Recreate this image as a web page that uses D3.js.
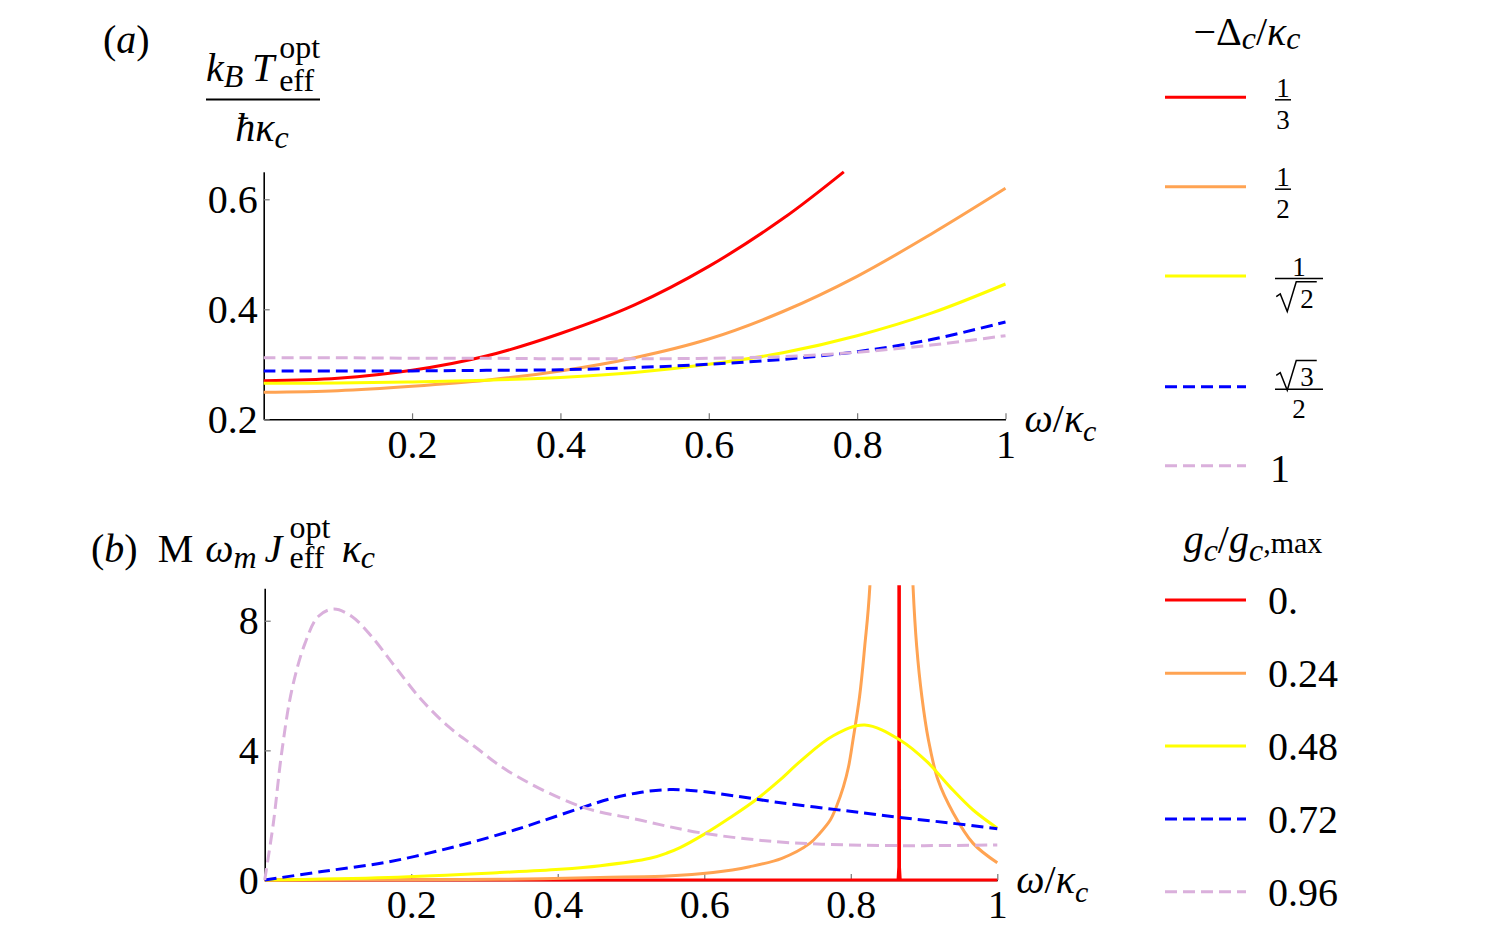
<!DOCTYPE html>
<html>
<head>
<meta charset="utf-8">
<script src="https://cdn.jsdelivr.net/npm/d3@7"></script>
<style>
  body { margin: 0; background: #fff; }
  svg { display: block; }
  text { font-family: "Liberation Serif", "Times New Roman", serif; fill: #000; }
</style>
</head>
<body>
<svg id="chart" width="1503" height="938" font-family="Liberation Serif"></svg>
<script>
/********************************************************************
Datos
*********************************************************************/

// Panel (a): k_B T / (hbar kappa_c) vs omega/kappa_c, one list per -Delta_c/kappa_c
const tempDelta13 = [[0, 0.270], [0.1, 0.2745], [0.2, 0.289], [0.3, 0.315], [0.4, 0.356],
  [0.5, 0.408], [0.6, 0.478], [0.7, 0.565], [0.782, 0.65]];
const tempDelta12 = [[0, 0.249], [0.1, 0.252], [0.2, 0.260], [0.3, 0.271], [0.4, 0.288],
  [0.5, 0.312], [0.6, 0.346], [0.7, 0.396], [0.8, 0.460], [0.9, 0.537], [1, 0.620]];
const tempDeltaR2 = [[0, 0.2655], [0.1, 0.266], [0.2, 0.268], [0.3, 0.271], [0.4, 0.276],
  [0.5, 0.285], [0.6, 0.300], [0.7, 0.321], [0.8, 0.352], [0.9, 0.393], [1, 0.446]];
const tempDeltaR3 = [[0, 0.288], [0.1, 0.288], [0.2, 0.288], [0.3, 0.289], [0.4, 0.290],
  [0.5, 0.294], [0.6, 0.300], [0.7, 0.309], [0.8, 0.323], [0.9, 0.345], [1, 0.377]];
const tempDelta1 = [[0, 0.312], [0.1, 0.312], [0.2, 0.311], [0.3, 0.311], [0.4, 0.310],
  [0.5, 0.310], [0.6, 0.311], [0.7, 0.314], [0.8, 0.322], [0.9, 0.335], [1, 0.352]];

// Panel (b): M omega_m J kappa_c vs omega/kappa_c, one list per g_c/g_c,max
const fluxG000 = [[0, 0], [0.8645, 0], [0.8655, 0.4], [0.866, 40], [0.8665, 0.4], [0.8675, 0], [1, 0]];
const fluxG024 = [[0, 0], [0.2, 0.01], [0.321, 0.02], [0.458, 0.08], [0.549, 0.12], [0.612, 0.23],
  [0.662, 0.41], [0.706, 0.67], [0.744, 1.13], [0.758, 1.45], [0.772, 1.85], [0.781, 2.3],
  [0.790, 2.88], [0.797, 3.5], [0.803, 4.32], [0.812, 5.66], [0.819, 7.2], [0.826, 9.05],
  [0.84, 20], [0.855, 40], [0.87, 20], [0.885, 9.05], [0.890, 7.2], [0.897, 5.66], [0.906, 4.32],
  [0.919, 3.09], [0.940, 2.06], [0.967, 1.13], [1, 0.53]];
const fluxG048 = [[0, 0], [0.169, 0.08], [0.321, 0.23], [0.403, 0.33], [0.458, 0.44], [0.526, 0.67],
  [0.55, 0.84], [0.567, 1.0], [0.599, 1.40], [0.635, 1.92], [0.672, 2.50], [0.703, 3.08],
  [0.731, 3.66], [0.776, 4.45], [0.819, 4.78], [0.867, 4.32], [0.904, 3.65], [0.935, 2.88],
  [0.967, 2.16], [1, 1.6]];
const fluxG072 = [[0, 0], [0.078, 0.26], [0.169, 0.56], [0.26, 1.03], [0.342, 1.55], [0.376, 1.80],
  [0.430, 2.21], [0.471, 2.50], [0.512, 2.70], [0.553, 2.79], [0.594, 2.74], [0.640, 2.60],
  [0.699, 2.40], [0.799, 2.12], [0.867, 1.93], [0.935, 1.76], [1, 1.58]];
const fluxG096 = [[0, 0], [0.0118, 1.75], [0.023, 3.9], [0.037, 5.86], [0.055, 7.3], [0.073, 8.13],
  [0.094, 8.36], [0.119, 8.13], [0.146, 7.51], [0.178, 6.58], [0.214, 5.56], [0.251, 4.73],
  [0.287, 4.11], [0.333, 3.35], [0.430, 2.28], [0.512, 1.85], [0.594, 1.46], [0.699, 1.18],
  [0.799, 1.08], [0.9, 1.06], [1, 1.08]];

// Ticks
const xTicks = [0.2, 0.4, 0.6, 0.8, 1];
const xTickLabels = ["0.2", "0.4", "0.6", "0.8", "1"];
const yTicksA = [0.2, 0.4, 0.6];
const yTickLabelsA = ["0.2", "0.4", "0.6"];
const yTicksB = [0, 4, 8];
const yTickLabelsB = ["0", "4", "8"];

// Leyendas
const deltaFractions = [["1", "3"], ["1", "2"], ["1", "√2"], ["√3", "2"]];
const deltaLastLabel = "1";
const couplingLabels = ["0.", "0.24", "0.48", "0.72", "0.96"];

/********************************************************************
Estilos
*********************************************************************/
const seriesColors = ["#ff0000", "#ffa352", "#ffff00", "#0000ff", "#dab0dc"];
const seriesDash = [null, null, null, "12,6", "12,6"];
const FONT = 40;

const svg = d3.select("#chart");

/********************************************************************
Funciones
*********************************************************************/

// Escribe texto "matemático" con sub/superíndices usando tspans
function mathText(parent, x, y, parts, size, anchor) {
  const t = parent.append("text")
    .attr("x", x).attr("y", y)
    .attr("font-size", size)
    .attr("text-anchor", anchor || "start");
  let shift = 0, pending = 0, lastW = 0;
  parts.forEach(p => {
    const s = p.s || 1;
    const off = (p.sh || 0) * size;
    const ts = t.append("tspan").text(p.t)
      .attr("font-size", size * s)
      .attr("font-style", p.i ? "italic" : "normal")
      .attr("dy", off - shift);
    let dx = pending + (p.dx || 0) * size;
    if (p.stack) dx -= lastW;
    if (dx) ts.attr("dx", dx);
    shift = off;
    const w = ts.node().getComputedTextLength();
    pending = p.stack ? Math.max(0, lastW - w) : 0;
    lastW = w;
  });
  return t;
}

// Panel con ejes, líneas y recorte
function drawPanel(cfg) {
  const x = d3.scaleLinear().domain([0, 1]).range([cfg.left, cfg.right]);
  const y = d3.scaleLinear().domain(cfg.yDomain).range([cfg.bottom, cfg.top]);

  const clipId = "clip-" + cfg.id;
  svg.append("clipPath").attr("id", clipId)
    .append("rect")
    .attr("x", cfg.left - 2).attr("y", cfg.top - 3)
    .attr("width", cfg.right - cfg.left + 4).attr("height", cfg.bottom - cfg.top + 6);

  const gx = svg.append("g")
    .attr("transform", `translate(0,${cfg.bottom})`)
    .call(d3.axisBottom(x).tickValues(xTicks)
      .tickFormat((d, i) => xTickLabels[i])
      .tickSizeInner(-6).tickSizeOuter(0));
  gx.selectAll("text").attr("y", cfg.xLabelY - cfg.bottom).attr("dy", 0)
    .attr("font-size", FONT);

  const gy = svg.append("g")
    .attr("transform", `translate(${cfg.left},0)`)
    .call(d3.axisLeft(y).tickValues(cfg.yTicks)
      .tickFormat((d, i) => cfg.yTickLabels[i])
      .tickSizeInner(-6).tickSizeOuter(0));
  gy.selectAll("text").attr("x", -6).attr("dy", "0.33em")
    .attr("font-size", FONT);

  [gx, gy].forEach(g => {
    g.attr("font-family", "Liberation Serif");
    g.select(".domain").attr("stroke", "#000").attr("stroke-width", 1.6);
    g.selectAll(".tick line").attr("stroke", "#777").attr("stroke-width", 1.2);
  });

  const smooth = d3.line().x(d => x(d[0])).y(d => y(d[1])).curve(d3.curveCatmullRom.alpha(0.5));
  const straight = d3.line().x(d => x(d[0])).y(d => y(d[1]));

  svg.append("g").attr("clip-path", `url(#${clipId})`)
    .selectAll("path")
    .data(cfg.series)
    .enter()
    .append("path")
    .attr("d", d => (d.linear ? straight : smooth)(d.values))
    .attr("fill", "none")
    .attr("stroke", (d, i) => seriesColors[i])
    .attr("stroke-width", 3)
    .attr("stroke-dasharray", (d, i) => seriesDash[i]);

  // omega/kappa_c
  mathText(svg, cfg.right + 19, cfg.xTitleY,
    [{ t: "ω", i: 1 }, { t: "/" }, { t: "κ", i: 1 }, { t: "c", i: 1, s: 0.75, sh: 0.22 }], FONT);
}

// Muestras de la leyenda
function legendSample(yy, i) {
  svg.append("line")
    .attr("x1", 1165).attr("x2", 1246)
    .attr("y1", yy).attr("y2", yy)
    .attr("stroke", seriesColors[i])
    .attr("stroke-width", 3)
    .attr("stroke-dasharray", seriesDash[i]);
}

// Número con raíz dibujada a mano (signo + vínculo)
function rootedNumber(cx, base, digit, size) {
  const t = svg.append("text").attr("x", cx + 8).attr("y", base)
    .attr("text-anchor", "middle").attr("font-size", size).text(digit);
  const w = t.node().getComputedTextLength();
  const x0 = cx + 8 - w / 2 - 3;       // left of the digit
  const top = base - size * 0.95;
  const path = d3.path();
  path.moveTo(x0 - 21, base - size * 0.4);
  path.lineTo(x0 - 17, base - size * 0.5);
  path.lineTo(x0 - 10, base + 4);
  path.lineTo(x0 - 1, top);
  path.lineTo(x0 + w + 6, top);
  svg.append("path").attr("d", path.toString())
    .attr("fill", "none").attr("stroke", "#000").attr("stroke-width", 1.5)
    .attr("stroke-linejoin", "miter");
}

// Fracción apilada
function fraction(cx, barY, width, num, den, size) {
  svg.append("line").attr("x1", cx - width / 2).attr("x2", cx + width / 2)
    .attr("y1", barY).attr("y2", barY).attr("stroke", "#000").attr("stroke-width", 1.5);
  [[num, barY - 3], [den, barY + 29]].forEach(([s, base]) => {
    if (s.startsWith("√")) {
      rootedNumber(cx, base, s.slice(1), size);
    } else {
      svg.append("text").attr("x", cx).attr("y", base)
        .attr("text-anchor", "middle").attr("font-size", size).text(s);
    }
  });
}

/********************************************************************
Main
*********************************************************************/

drawPanel({
  id: "a", left: 263.7, right: 1005.5, top: 171.8, bottom: 419.3,
  yDomain: [0.2, 0.65], yTicks: yTicksA, yTickLabels: yTickLabelsA,
  xLabelY: 458, xTitleY: 432,
  series: [
    { values: tempDelta13 }, { values: tempDelta12 }, { values: tempDeltaR2 },
    { values: tempDeltaR3 }, { values: tempDelta1 }
  ]
});

drawPanel({
  id: "b", left: 264.7, right: 997.3, top: 588.3, bottom: 880,
  yDomain: [0, 9], yTicks: yTicksB, yTickLabels: yTickLabelsB,
  xLabelY: 918, xTitleY: 893,
  series: [
    { values: fluxG000, linear: true }, { values: fluxG024 }, { values: fluxG048 },
    { values: fluxG072 }, { values: fluxG096 }
  ]
});

// (a) y su etiqueta vertical
mathText(svg, 103, 53, [{ t: "(" }, { t: "a", i: 1 }, { t: ")" }], FONT);
mathText(svg, 206, 81, [
  { t: "k", i: 1 }, { t: "B", i: 1, s: 0.8, sh: 0.15 },
  { t: "T", i: 1, dx: 0.22 },
  { t: "opt", s: 0.8, sh: -0.57, dx: 0.12 }, { t: "eff", s: 0.8, sh: 0.25, stack: 1 }
], FONT);
svg.append("line").attr("x1", 206).attr("x2", 320).attr("y1", 99.5).attr("y2", 99.5)
  .attr("stroke", "#000").attr("stroke-width", 1.8);
mathText(svg, 262, 141, [{ t: "ħ", i: 1 }, { t: "κ", i: 1 }, { t: "c", i: 1, s: 0.8, sh: 0.18 }],
  FONT, "middle");

// (b) etiqueta
mathText(svg, 91, 562, [
  { t: "(" }, { t: "b", i: 1 }, { t: ")" },
  { t: "M", dx: 0.5 }, { t: "ω", i: 1, dx: 0.3 }, { t: "m", i: 1, s: 0.8, sh: 0.15 },
  { t: "J", i: 1, dx: 0.2 }, { t: "opt", s: 0.8, sh: -0.6, dx: 0.18 },
  { t: "eff", s: 0.8, sh: 0.15, stack: 1 },
  { t: "κ", i: 1, dx: 0.28 }, { t: "c", i: 1, s: 0.8, sh: 0.15 }
], FONT);

// Leyenda (a)
mathText(svg, 1247, 45, [
  { t: "−" }, { t: "Δ" }, { t: "c", i: 1, s: 0.8, sh: 0.1 }, { t: "/" },
  { t: "κ", i: 1 }, { t: "c", i: 1, s: 0.8, sh: 0.1 }
], FONT, "middle");
const legendYA = [97.3, 186.7, 276, 386.7, 465.7];
const fracCenters = [1283, 1283, 1299, 1299];
const fracBars = [16, 16, 48, 48];
legendYA.forEach((yy, i) => legendSample(yy, i));
deltaFractions.forEach((f, i) => fraction(fracCenters[i], legendYA[i] + 2.5, fracBars[i], f[0], f[1], 27));
svg.append("text").attr("x", 1270).attr("y", legendYA[4] + 16).attr("font-size", FONT).text(deltaLastLabel);

// Leyenda (b)
mathText(svg, 1253, 553, [
  { t: "g", i: 1 }, { t: "c", i: 1, s: 0.8, sh: 0.2 }, { t: "/" },
  { t: "g", i: 1 }, { t: "c", i: 1, s: 0.8, sh: 0.2 }, { t: ",max", s: 0.75 }
], FONT, "middle");
const legendYB = [600, 673.3, 746, 819, 891.7];
legendYB.forEach((yy, i) => {
  legendSample(yy, i);
  svg.append("text").attr("x", 1268).attr("y", yy + 14).attr("font-size", FONT)
    .text(couplingLabels[i]);
});
</script>
</body>
</html>
